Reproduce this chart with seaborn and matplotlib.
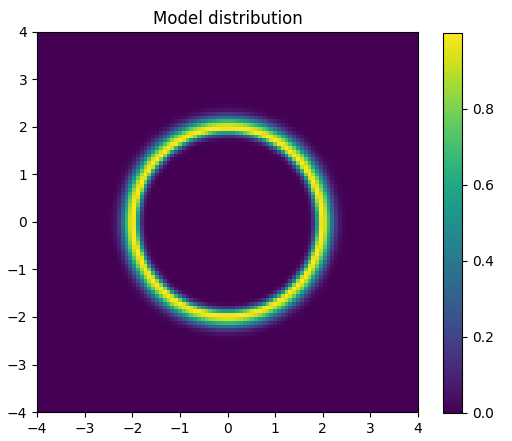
import numpy as np
import matplotlib
matplotlib.use("Agg")
import matplotlib.pyplot as plt
import seaborn as sns

# Ring model parameters
ring_radius = 2.0
sigma_inner = 0.09
sigma_outer = 0.16
grid_n = 100
x_range = [-4, 4]
y_range = [-4, 4]
ticks = [-4, -3, -2, -1, 0, 1, 2, 3, 4]
cbar_ticks = [0.0, 0.2, 0.4, 0.6, 0.8]

xs = np.linspace(x_range[0], x_range[1], grid_n)
ys = np.linspace(y_range[0], y_range[1], grid_n)
X, Y = np.meshgrid(xs, ys)
R = np.sqrt(X**2 + Y**2)
D = R - ring_radius
S = np.where(D < 0, sigma_inner, sigma_outer)
Z = np.exp(-(D ** 2) / (2 * S**2))

cmap = sns.color_palette("viridis", as_cmap=True)

fig = plt.figure(figsize=(5.12, 4.41), dpi=100)
W, H = 512, 441
ax = fig.add_axes([37 / W, 1 - 412 / H, (418 - 37) / W, (412 - 32) / H])
cax = fig.add_axes([443 / W, 1 - 413 / H, (462 - 443) / W, (413 - 33) / H])

im = ax.imshow(Z, origin="lower", extent=[x_range[0], x_range[1], y_range[0], y_range[1]],
               cmap=cmap, aspect="auto", interpolation="nearest")
ax.set_xticks(ticks)
ax.set_yticks(ticks)
ax.set_title("Model distribution")
cb = fig.colorbar(im, cax=cax)
cb.set_ticks(cbar_ticks)
fig.savefig("out.png", dpi=100)
